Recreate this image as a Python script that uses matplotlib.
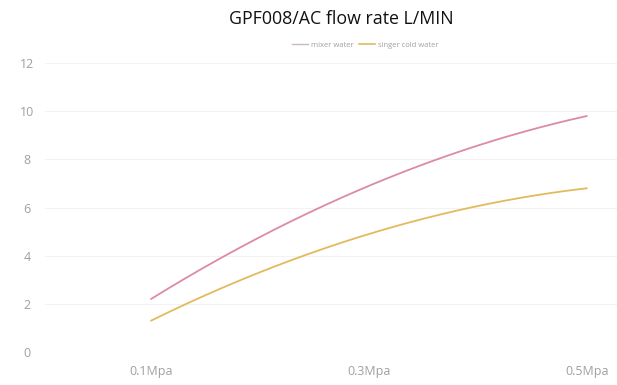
import numpy as np
import matplotlib
matplotlib.use("Agg")
import matplotlib.pyplot as plt
from matplotlib.lines import Line2D

categories = ["0.1Mpa", "0.3Mpa", "0.5Mpa"]
mixer_water = [2.2, 6.9, 9.8]
single_cold_water = [1.3, 4.9, 6.8]
yticks = [0, 2, 4, 6, 8, 10, 12]
series_names = ["mixer water", "singer cold water"]

plt.rcParams['font.family'] = ['Open Sans', 'DejaVu Sans']

fig = plt.figure(figsize=(6.17, 3.85), dpi=100)
ax = fig.add_axes([0.073, 0.0857, 0.927, 0.7506])

x = np.arange(len(categories))


def smooth(xs, ys, n=200):
    # quadratic curve through the three data points for a smooth rendering
    coeffs = np.polyfit(xs, ys, len(xs) - 1)
    xx = np.linspace(xs[0], xs[-1], n)
    return xx, np.polyval(coeffs, xx)


pink = '#dc8aa6'
yellow = '#e2ba5e'
xx, yy = smooth(x, mixer_water)
ax.plot(xx, yy, color=pink, lw=1.3, solid_capstyle='round')
xx, yy = smooth(x, single_cold_water)
ax.plot(xx, yy, color=yellow, lw=1.3, solid_capstyle='round')

ax.set_xlim(-0.486, 2.138)
ax.set_ylim(0, 12)
ax.set_yticks(yticks)
ax.set_yticklabels([str(v) for v in yticks])
ax.set_xticks(x)
ax.set_xticklabels(categories)
for t in ax.get_yticklabels():
    t.set_horizontalalignment('center')
ax.tick_params(axis='y', length=0, pad=13, labelsize=9, labelcolor='#a0a0a0')
ax.tick_params(axis='x', length=0, pad=9, labelsize=9, labelcolor='#a0a0a0')
for v in yticks:
    ax.axhline(v, color='#f3f3f3', lw=0.8, zorder=0)
for s in ax.spines.values():
    s.set_visible(False)

fig.text(0.553, 0.951, "GPF008/AC flow rate L/MIN", ha='center', va='center',
         fontsize=12.8, color='#111111')

handles = [Line2D([0], [0], color='#c9b9c2', lw=1.0),
           Line2D([0], [0], color=yellow, lw=1.2)]
fig.legend(handles, series_names, loc='center', bbox_to_anchor=(0.592, 0.883),
           ncol=2, frameon=False, fontsize=5.5, labelcolor='#a0a0a0',
           handlelength=2.2, handletextpad=0.4, columnspacing=0.6)

fig.savefig("out.png", dpi=100)
